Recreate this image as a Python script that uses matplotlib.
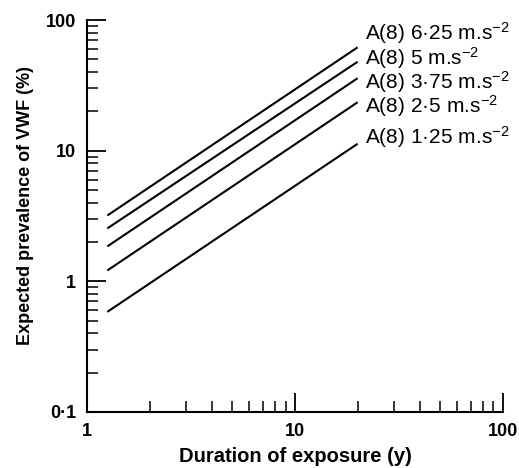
import matplotlib
matplotlib.use("Agg")
import matplotlib.pyplot as plt
from matplotlib.ticker import LogLocator, FixedLocator, NullFormatter

plt.rcParams['font.family'] = ['Liberation Sans', 'DejaVu Sans']
plt.rcParams['mathtext.fontset'] = 'custom'
plt.rcParams['mathtext.rm'] = 'Liberation Sans'
plt.rcParams['mathtext.it'] = 'Liberation Sans'

# Data: line end points (duration in years)
durations = [1.25, 20]
a8_labels = ['6·25', '5', '3·75', '2·5', '1·25']
prev_start = [3.19, 2.54, 1.85, 1.21, 0.583]
prev_end = [61.9, 48.0, 35.9, 23.5, 11.3]
label_y = [79.6, 51.3, 33.6, 22.1, 12.8]

xticks = [1, 10, 100]
xtick_labels = ['1', '10', '100']
yticks = [0.1, 1, 10, 100]
ytick_labels = ['0·1', '1', '10', '100']

fig = plt.figure(figsize=(5.19, 4.68), dpi=100)
ax = fig.add_axes([0.168, 0.120, 0.801, 0.837])

for a, y0, y1, ly in zip(a8_labels, prev_start, prev_end, label_y):
    ax.plot(durations, [y0, y1], color='black', lw=1.5, solid_capstyle='butt')
    ax.text(21.7, ly, 'A(8) ' + a + ' m.s$^{-2}$', fontsize=15,
            va='center', ha='left', color='black')

ax.set_xscale('log')
ax.set_yscale('log')
ax.set_xlim(1, 100)
ax.set_ylim(0.1, 100)

ax.xaxis.set_major_locator(FixedLocator(xticks))
ax.set_xticklabels(xtick_labels)
ax.yaxis.set_major_locator(FixedLocator(yticks))
ax.set_yticklabels(ytick_labels)
ax.xaxis.set_minor_locator(LogLocator(base=10, subs=range(2, 10)))
ax.yaxis.set_minor_locator(LogLocator(base=10, subs=range(2, 10)))
ax.xaxis.set_minor_formatter(NullFormatter())
ax.yaxis.set_minor_formatter(NullFormatter())

ax.spines['top'].set_visible(False)
ax.spines['right'].set_visible(False)
for s in ['left', 'bottom']:
    ax.spines[s].set_linewidth(1.5)

ax.tick_params(which='major', direction='in', length=14, width=1.3,
               labelsize=13, pad=8)
ax.tick_params(which='minor', direction='in', length=8, width=1.1)
for lab in ax.get_xticklabels() + ax.get_yticklabels():
    lab.set_fontweight('bold')

ax.set_xlabel('Duration of exposure (y)', fontsize=14.5, fontweight='bold', labelpad=5)
ax.set_ylabel('Expected prevalence of VWF (%)', fontsize=13, fontweight='bold')
ax.yaxis.set_label_coords(-0.128, 0.526)

fig.savefig('out.png', dpi=100)
